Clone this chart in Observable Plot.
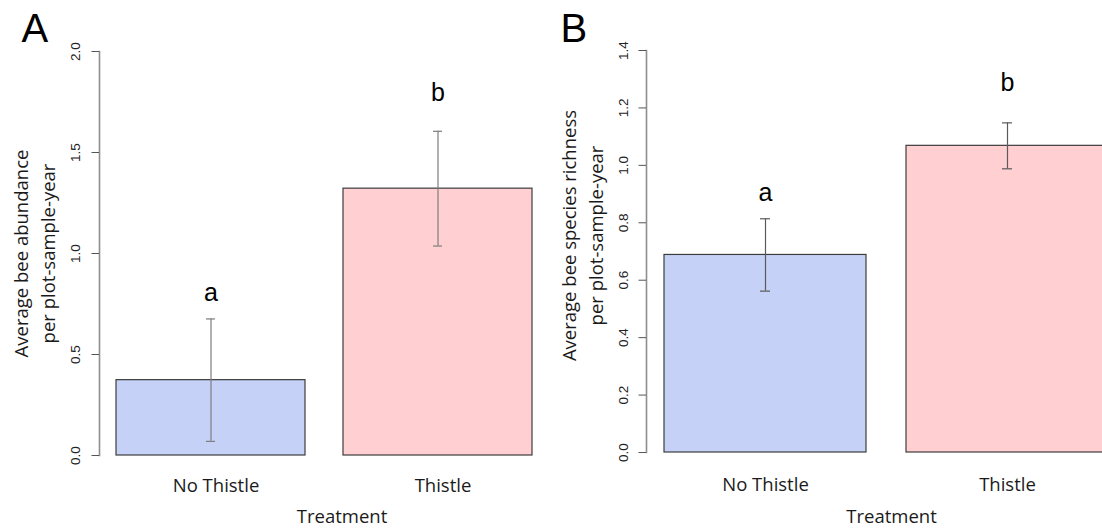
<!DOCTYPE html>
<html>
<head>
<meta charset="utf-8">
<script src="https://cdn.jsdelivr.net/npm/d3@7"></script>
<script src="https://cdn.jsdelivr.net/npm/@observablehq/plot@0.6"></script>
<style>
  body { margin: 0; background: #fff; overflow: hidden; }
  #chart { display: flex; width: 1102px; height: 529px; overflow: hidden; }
  #chart svg { flex: none; background: #fff; }
</style>
</head>
<body>
<div id="chart"></div>
<script>
// Treatment groups and per-group summaries (mean ± standard error)
const treatments = ["No Thistle", "Thistle"];
const groupLetters = ["a", "b"];

const abundanceMean = [0.373, 1.321];
const abundanceSE = [0.303, 0.284];
const abundanceLetterY = [0.764, 1.757];

const richnessMean = [0.688, 1.068];
const richnessSE = [0.126, 0.080];
const richnessLetterY = [0.876, 1.26];

const abundanceTicks = [0, 0.5, 1.0, 1.5, 2.0];
const richnessTicks = [0, 0.2, 0.4, 0.6, 0.8, 1.0, 1.2, 1.4];

const barFills = ["#c5d1f7", "#ffcfd1"];

const SANS = "'Open Sans', 'Noto Sans', sans-serif";
const ARIAL = "'Liberation Sans', Arial, sans-serif";
const fmt = d3.format(".1f");

function panel(cfg) {
  const rows = treatments.map((t, i) => ({
    treatment: t,
    mean: cfg.means[i],
    lo: cfg.means[i] - cfg.ses[i],
    hi: cfg.means[i] + cfg.ses[i],
    letter: groupLetters[i],
    letterY: cfg.letterY[i]
  }));
  return Plot.plot({
    width: cfg.width,
    height: 529,
    marginLeft: cfg.marginLeft,
    marginRight: 0,
    marginTop: cfg.marginTop,
    marginBottom: cfg.marginBottom,
    style: { background: "#fff", color: "#1a1a1a" },
    x: { type: "band", domain: treatments, paddingInner: 0.2 / 1.2, paddingOuter: 0.088 / 1.2 },
    y: { domain: [0, cfg.yMax] },
    color: { domain: treatments, range: barFills },
    marks: [
      // axis line spans the lowest to the highest tick
      Plot.frame({ anchor: "left", stroke: "#8e8e8e", strokeWidth: 1.6 }),
      // tick marks only; the rotated labels are drawn below
      Plot.axisY({ ticks: cfg.ticks, tickSize: 7.5, stroke: "#555", fill: "none", label: null }),
      Plot.text(cfg.ticks, {
        y: (d) => d, text: (d) => fmt(d), frameAnchor: "left", dx: cfg.tickLabelDx,
        rotate: -90, textAnchor: "middle", lineAnchor: "bottom",
        fontSize: 13.5, fontFamily: ARIAL, fill: "#222"
      }),
      Plot.axisX({
        tickSize: 0,
        tickPadding: cfg.xPad,
        fontSize: 18.5,
        fontFamily: SANS,
        dx: cfg.xLabelDx,
        label: null
      }),
      Plot.barY(rows, { x: "treatment", y: "mean", fill: "treatment", stroke: "#3c3c3c", strokeWidth: 1.2 }),
      Plot.ruleX(rows, { x: "treatment", y1: "lo", y2: "hi", stroke: cfg.errColor, strokeWidth: 1.2 }),
      Plot.tickY(rows, { x: "treatment", y: "lo", stroke: cfg.errColor, strokeWidth: 1.2, insetLeft: cfg.capInset, insetRight: cfg.capInset }),
      Plot.tickY(rows, { x: "treatment", y: "hi", stroke: cfg.errColor, strokeWidth: 1.2, insetLeft: cfg.capInset, insetRight: cfg.capInset }),
      Plot.text(rows, { x: "treatment", y: "letterY", text: "letter", fontSize: 25, fontFamily: ARIAL, lineAnchor: "bottom", fill: "#000" }),
      Plot.text([cfg.title], {
        frameAnchor: "left", text: (d) => d, rotate: -90, dx: cfg.titleDx, dy: cfg.titleDy,
        textAnchor: "middle", lineAnchor: "middle", lineHeight: 1.5,
        fontSize: 18.5, fontFamily: SANS
      }),
      Plot.text(["Treatment"], {
        frameAnchor: "bottom", text: (d) => d, dx: cfg.treatDx, dy: cfg.treatDy,
        lineAnchor: "bottom", fontSize: 18.5, fontFamily: SANS
      }),
      Plot.text([cfg.tag], {
        frameAnchor: "top-left", text: (d) => d, dx: cfg.tagDx, dy: cfg.tagDy,
        textAnchor: "start", lineAnchor: "bottom", fontSize: 40, fontFamily: ARIAL, fill: "#000"
      })
    ]
  });
}

const chart = document.getElementById("chart");

chart.append(panel({
  means: abundanceMean, ses: abundanceSE, letterY: abundanceLetterY,
  ticks: abundanceTicks, yMax: 2,
  title: "Average bee abundance\nper plot-sample-year", tag: "A",
  width: 550, marginLeft: 99, marginTop: 51, marginBottom: 74,
  errColor: "#7d7d7d", capInset: 90, xPad: 23, xLabelDx: 5, tickLabelDx: -20,
  titleDx: -67, titleDy: 0, treatDx: 17, treatDy: 67, tagDx: -78, tagDy: -10
}));

chart.append(panel({
  means: richnessMean, ses: richnessSE, letterY: richnessLetterY,
  ticks: richnessTicks, yMax: 1.4,
  title: "Average bee species richness\nper plot-sample-year", tag: "B",
  width: 576, marginLeft: 96, marginTop: 50, marginBottom: 77,
  errColor: "#5a5a5a", capInset: 96, xPad: 25.5, xLabelDx: 0, tickLabelDx: -19,
  titleDx: -66, titleDy: -16, treatDx: 5, treatDy: 70, tagDx: -86, tagDy: -9
}));
</script>
</body>
</html>
